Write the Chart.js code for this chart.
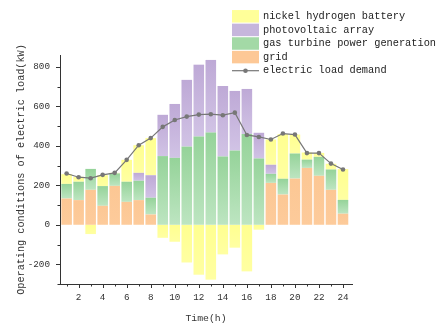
<!DOCTYPE html>
<html>
<head>
<meta charset="utf-8">
<script src="https://cdn.jsdelivr.net/npm/chart.js@4"></script>
<style>
  html, body { margin: 0; padding: 0; background: #fff; }
  #wrap { width: 438px; height: 327px; }
</style>
</head>
<body>
<div id="wrap"><canvas id="loadChart"></canvas></div>
<script>
// hours of the day
const hours = [1, 2, 3, 4, 5, 6, 7, 8, 9, 10, 11, 12, 13, 14, 15, 16, 17, 18, 19, 20, 21, 22, 23, 24];

// power sources (kW), stacked bottom -> top
const grid = [133, 125, 177, 96, 197, 116, 125, 52, 0, 0, 0, 0, 0, 0, 0, 0, 0, 212, 153, 234, 288, 248, 177, 56];
const gasTurbine = [74, 93, 106, 100, 63, 102, 98, 85, 348, 339, 396, 447, 467, 346, 376, 460, 336, 46, 80, 127, 42, 96, 103, 70];
const photovoltaic = [0, 0, 0, 0, 0, 0, 40, 114, 209, 273, 338, 364, 368, 357, 302, 228, 130, 46, 0, 0, 0, 0, 0, 0];
const battery = [49, 25, -47, 55, 3, 111, 140, 188, -66, -86, -191, -253, -278, -150, -116, -236, -25, 128, 226, 96, 36, 20, 29, 156];

// electric load demand (kW)
const loadDemand = [260, 241, 236, 253, 263, 329, 403, 439, 496, 531, 548, 558, 560, 555, 568, 455, 445, 432, 462, 457, 363, 363, 310, 280];

// labelled ticks
const xTickLabels = [2, 4, 6, 8, 10, 12, 14, 16, 18, 20, 22, 24];
const yTickLabels = [-200, 0, 200, 400, 600, 800];

const FONT = "'Liberation Mono', 'DejaVu Sans Mono', monospace";
const barSeries = [grid, gasTurbine, photovoltaic, battery];

// vertical gradient per bar segment (darker top, lighter bottom)
function segmentColor(topColor, bottomColor) {
    return function (context) {
        const chart = context.chart;
        if (context.type !== "data" || !chart.chartArea) return topColor;
        const i = context.dataIndex;
        const d = context.datasetIndex;
        const v = barSeries[d][i];
        let base = 0;
        for (let k = 0; k < d; k++) {
            const o = barSeries[k][i];
            if ((v >= 0 && o >= 0) || (v < 0 && o < 0)) base += o;
        }
        const y = chart.scales.y;
        const y1 = y.getPixelForValue(Math.max(base, base + v));
        const y2 = y.getPixelForValue(Math.min(base, base + v));
        if (!isFinite(y1) || !isFinite(y2) || y1 === y2) return topColor;
        const g = chart.ctx.createLinearGradient(0, y1, 0, y2);
        g.addColorStop(0, topColor);
        g.addColorStop(1, bottomColor);
        return g;
    };
}

// minor / major tick marks on both axes
const tickMarks = {
    id: "tickMarks",
    afterDraw(chart) {
        const {ctx, scales: {x, y}} = chart;
        ctx.save();
        ctx.strokeStyle = "#333";
        ctx.lineWidth = 1;
        ctx.beginPath();
        hours.forEach(h => {
            const px = Math.round(x.getPixelForValue(h)) + 0.5;
            const len = h % 2 === 0 ? 4 : 2.5;
            ctx.moveTo(px, x.top);
            ctx.lineTo(px, x.top + len);
        });
        for (let v = -300; v <= 800; v += 100) {
            const py = Math.round(y.getPixelForValue(v)) + 0.5;
            const len = v % 200 === 0 ? 4 : 2.5;
            ctx.moveTo(y.right - len, py);
            ctx.lineTo(y.right, py);
        }
        ctx.stroke();
        ctx.restore();
    }
};

// legend in the upper right, listed top battery -> grid, then the line
const sideLegend = {
    id: "sideLegend",
    afterDraw(chart) {
        const {ctx} = chart;
        const ds = chart.data.datasets;
        const orderList = [3, 2, 1, 0, 4];
        const boxX = 232, boxW = 27, boxH = 12.5, textX = 263, y0 = 16.3, step = 13.6;
        ctx.save();
        ctx.font = "10.3px " + FONT;
        ctx.textBaseline = "middle";
        orderList.forEach((di, row) => {
            const cy = y0 + row * step;
            const d = ds[di];
            if (d.type === "line") {
                ctx.strokeStyle = d.borderColor;
                ctx.lineWidth = 1.2;
                ctx.beginPath();
                ctx.moveTo(boxX, cy);
                ctx.lineTo(boxX + boxW, cy);
                ctx.stroke();
                ctx.fillStyle = d.pointBackgroundColor;
                ctx.beginPath();
                ctx.arc(boxX + boxW / 2, cy, 2.3, 0, Math.PI * 2);
                ctx.fill();
            } else {
                ctx.fillStyle = d.legendColor;
                ctx.fillRect(boxX, cy - boxH / 2, boxW, boxH);
            }
            ctx.fillStyle = "#222";
            ctx.fillText(d.label, textX, cy);
        });
        ctx.restore();
    }
};

const ctx = document.getElementById("loadChart").getContext("2d");
new Chart(ctx, {
    type: "bar",
    data: {
        labels: hours,
        datasets: [
            {
                label: "grid",
                data: grid,
                backgroundColor: segmentColor("#fcc794", "#fdcb9b"),
                legendColor: "#fdc896"
            },
            {
                label: "gas turbine power generation",
                data: gasTurbine,
                backgroundColor: segmentColor("#95d399", "#bde5c1"),
                legendColor: "#a3d9a6"
            },
            {
                label: "photovoltaic array",
                data: photovoltaic,
                backgroundColor: segmentColor("#bea9d6", "#d1c3e5"),
                legendColor: "#c6b6dc"
            },
            {
                label: "nickel hydrogen battery",
                data: battery,
                backgroundColor: segmentColor("#ffff90", "#ffffa2"),
                legendColor: "#ffff99"
            },
            {
                type: "line",
                label: "electric load demand",
                data: loadDemand,
                stack: "load",
                order: -1,
                borderColor: "#777",
                borderWidth: 1.2,
                pointRadius: 2.3,
                pointBackgroundColor: "#777",
                pointBorderWidth: 0,
                tension: 0
            }
        ]
    },
    options: {
        responsive: true,
        maintainAspectRatio: false,
        animation: false,
        categoryPercentage: 0.88,
        barPercentage: 1,
        layout: { padding: { top: 55, right: 86, left: 0, bottom: 0 } },
        plugins: {
            legend: { display: false },
            tooltip: { enabled: false }
        },
        scales: {
            x: {
                type: "linear",
                min: 0.45,
                max: 24.75,
                offset: false,
                stacked: true,
                grid: { display: false, drawTicks: false },
                border: { display: true, color: "#333", width: 1 },
                afterBuildTicks(scale) {
                    scale.ticks = xTickLabels.map(v => ({ value: v }));
                },
                ticks: {
                    autoSkip: false,
                    maxRotation: 0,
                    padding: 8,
                    color: "#333",
                    font: { family: FONT, size: 9.3 }
                },
                title: {
                    display: true,
                    text: "Time(h)",
                    color: "#333",
                    font: { family: FONT, size: 9.8 },
                    padding: { top: 0, bottom: 3 }
                },
                afterFit(scale) { scale.height = 43; }
            },
            y: {
                min: -300,
                max: 860,
                stacked: true,
                grid: { display: false, drawTicks: false },
                border: { display: true, color: "#333", width: 1 },
                afterBuildTicks(scale) {
                    scale.ticks = yTickLabels.map(v => ({ value: v }));
                },
                ticks: {
                    padding: 10,
                    color: "#333",
                    font: { family: FONT, size: 9.3 }
                },
                title: {
                    display: true,
                    text: "Operating conditions of electric load(kW)",
                    color: "#333",
                    font: { family: FONT, size: 10.2 },
                    padding: { top: 15, bottom: 0 }
                },
                afterFit(scale) { scale.width = 60; }
            }
        }
    },
    plugins: [tickMarks, sideLegend]
});
</script>
</body>
</html>
